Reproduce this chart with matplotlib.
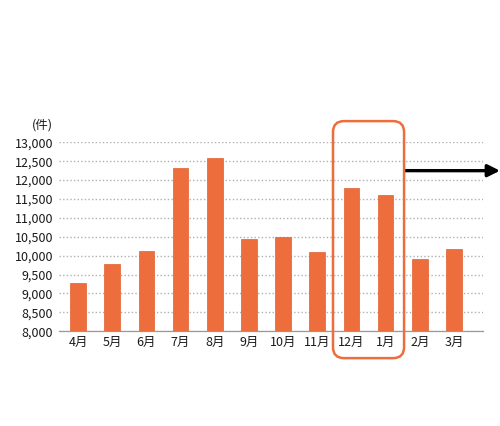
import matplotlib
matplotlib.use("Agg")
import matplotlib.pyplot as plt
from matplotlib.patches import FancyBboxPatch
from matplotlib.ticker import FuncFormatter

plt.rcParams['font.family'] = ['Noto Sans CJK JP', 'DejaVu Sans']

# data
months = ['4月', '5月', '6月', '7月', '8月', '9月', '10月', '11月', '12月', '1月', '2月', '3月']
counts = [9270, 9790, 10120, 12320, 12580, 10450, 10500, 10100, 11800, 11600, 9900, 10190]
yticks = list(range(8000, 13001, 500))
orange = '#EE6D3C'

fig = plt.figure(figsize=(5.0, 4.26), dpi=100)
ax = fig.add_axes([0.1186, 0.2223, 0.8474, 0.4437])

x = range(len(months))
ax.bar(x, counts, width=0.46, color=orange, edgecolor='#E0602F', lw=0.5, zorder=3)

ax.set_xlim(-0.55, 11.85)
ax.set_ylim(8000, 13000)
ax.set_yticks(yticks)
ax.yaxis.set_major_formatter(FuncFormatter(lambda v, p: f'{int(v):,}'))
ax.set_xticks(list(x))
ax.set_xticklabels(months)
ax.tick_params(axis='both', length=0, labelsize=9, colors='#1a1a1a')
ax.tick_params(axis='y', pad=4.5)
ax.tick_params(axis='x', pad=3.5)

ax.yaxis.grid(True, linestyle=(0, (1, 1.6)), color='#B0B0B0', lw=1.0, zorder=0)
for s in ['top', 'right', 'left']:
    ax.spines[s].set_visible(False)
ax.spines['bottom'].set_color('#999999')
ax.spines['bottom'].set_linewidth(0.9)

# unit label
ax.text(-0.015, 13450, '(件)', transform=ax.get_yaxis_transform(), ha='right', va='center',
        fontsize=9, color='#1a1a1a', clip_on=False)

# highlight box around 12月 and 1月 (drawn in inches so the corners are round)
fig.canvas.draw()
to_in = ax.transData + fig.dpi_scale_trans.inverted()
x0, y0 = to_in.transform((7.46, 7290))
x1, y1 = to_in.transform((9.54, 13560))
box = FancyBboxPatch((x0, y0), x1 - x0, y1 - y0,
                     boxstyle='round,pad=0,rounding_size=0.11',
                     transform=fig.dpi_scale_trans, fill=False,
                     edgecolor=orange, lw=1.8, clip_on=False)
fig.patches.append(box)

# arrow to the right
ax.annotate('', xy=(1.0, 0.5993), xycoords='figure fraction',
            xytext=(9.57, 12250), textcoords='data',
            arrowprops=dict(arrowstyle='-|>', lw=2.4, color='black',
                            mutation_scale=18, shrinkA=0, shrinkB=0))

fig.savefig('out.png', dpi=100)
